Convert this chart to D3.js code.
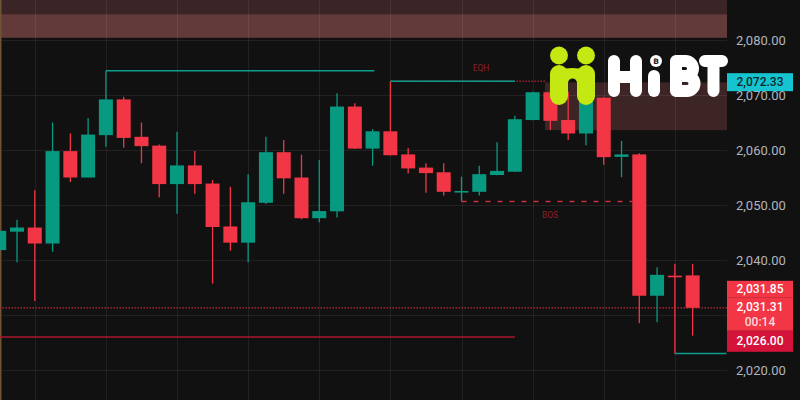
<!DOCTYPE html>
<meta charset="utf-8">
<script src="https://d3js.org/d3.v7.min.js"></script>
<body>
<style>
  html, body { margin: 0; padding: 0; background: #111111; }
  svg { display: block; }
</style>
<svg width="800" height="400"></svg>
<script>
// candles, left to right
var opens  = [2041.8, 2045.15, 2045.9, 2043.0, 2059.8, 2055.0, 2062.7, 2069.2, 2062.4, 2060.8,
              2053.8, 2057.2, 2053.9, 2046.1, 2043.15, 2050.4, 2059.6, 2055.0, 2047.6, 2048.85,
              2067.9, 2060.25, 2063.4, 2059.2, 2056.8, 2055.95, 2052.35, 2052.4, 2055.45, 2056.05,
              2065.45, 2070.5, 2065.45, 2063.0, 2069.5, 2058.75, 2059.2, 2033.5, 2037.15, 2037.2];
var highs  = [2045.5, 2047.3, 2052.7, 2065.0, 2063.0, 2065.8, 2074.4, 2069.7, 2065.0, 2061.0,
              2063.3, 2059.8, 2054.55, 2053.3, 2055.6, 2062.4, 2061.8, 2059.15, 2058.2, 2070.3,
              2068.5, 2063.8, 2072.5, 2060.35, 2057.6, 2057.6, 2055.15, 2057.15, 2061.4, 2066.25,
              2070.6, 2071.0, 2070.6, 2070.5, 2069.6, 2061.65, 2059.4, 2038.7, 2039.3, 2039.3];
var lows   = [2041.6, 2039.6, 2032.55, 2041.5, 2054.2, 2055.0, 2060.6, 2060.4, 2057.6, 2051.4,
              2048.4, 2052.05, 2035.7, 2041.7, 2039.6, 2050.2, 2052.05, 2047.4, 2046.8, 2047.75,
              2060.2, 2057.15, 2059.0, 2055.75, 2052.25, 2051.75, 2050.65, 2051.75, 2055.4, 2056.0,
              2065.4, 2063.65, 2061.8, 2060.85, 2057.3, 2055.05, 2028.5, 2028.7, 2023.0, 2026.25];
var closes = [2045.3, 2045.9, 2043.0, 2059.8, 2055.0, 2062.8, 2069.2, 2062.2, 2060.7, 2053.8,
              2057.2, 2053.8, 2046.0, 2043.15, 2050.5, 2059.6, 2054.85, 2047.6, 2048.9, 2067.9,
              2060.25, 2063.4, 2059.05, 2056.65, 2055.8, 2052.4, 2052.55, 2055.6, 2056.2, 2065.6,
              2070.5, 2065.3, 2063.0, 2069.1, 2058.7, 2059.2, 2033.5, 2037.3, 2037.0, 2031.31];

var gridTicks = [2020, 2030, 2040, 2050, 2060, 2070, 2080];
var axisTicks = [2020, 2040, 2050, 2060, 2070, 2080]; // 2,030 sits under the price tags

// zones
var zoneTopOuter = [2080.42, 2090];
var zoneTopInner = [2080.42, 2084.67];
var zoneRight = [30.7, 2072.3, 2063.6];

// drawn levels: [startIndex, endIndex, value]
var swingHigh1 = [6, 21.1, 2074.4];
var swingHigh2 = [22, 29, 2072.5];
var eqhDotted = [22, 30.7, 2072.5];
var bosLevel = [26, 35.7, 2050.65];
var oldLow = [0, 29, 2026.0];
var newLow = [38, 40.9, 2023.0];

var tagCyan = 2072.33;
var tagHigh = 2031.85;
var tagLast = 2031.31;
var tagCountdown = "00:14";
var tagLow = 2026.0;

var W = 800, H = 400, plotRight = 727;
var green = "#089981", red = "#f23645";

var svg = d3.select("svg");

var x = d3.scaleLinear().domain([0, 39]).range([-0.78, -0.78 + 39 * 17.78]);
var y = d3.scaleLinear().domain([2020, 2080]).range([370, 40]);
var bodyW = 14;
var fmt = d3.format(",.2f");

// bands behind everything
svg.append("rect").attr("x", 0).attr("width", plotRight)
  .attr("y", y(zoneTopOuter[1])).attr("height", y(zoneTopOuter[0]) - y(zoneTopOuter[1]))
  .attr("fill", "#3b2425");
svg.append("rect").attr("x", 0).attr("width", plotRight)
  .attr("y", y(zoneTopInner[1])).attr("height", y(zoneTopInner[0]) - y(zoneTopInner[1]))
  .attr("fill", "#623a3a");
svg.append("rect").attr("x", x(zoneRight[0])).attr("width", plotRight - x(zoneRight[0]))
  .attr("y", y(zoneRight[1])).attr("height", y(zoneRight[2]) - y(zoneRight[1]))
  .attr("fill", "#3d2526");

// grid
var grid = svg.append("g").attr("stroke", "rgba(255,255,255,0.07)").attr("stroke-width", 1);
grid.selectAll(".h").data(gridTicks).join("line")
  .attr("x1", 0).attr("x2", plotRight)
  .attr("y1", function (d) { return Math.round(y(d)) + 0.5; })
  .attr("y2", function (d) { return Math.round(y(d)) + 0.5; });
grid.selectAll(".v").data(d3.range(2, 40, 4)).join("line")
  .attr("y1", 0).attr("y2", H)
  .attr("x1", function (d) { return Math.round(x(d)) + 0.5; })
  .attr("x2", function (d) { return Math.round(x(d)) + 0.5; });

// left edge line
svg.append("line").attr("x1", 0.75).attr("x2", 0.75).attr("y1", 0).attr("y2", H)
  .attr("stroke", "#6e5334").attr("stroke-width", 1.5);

function level(l, color, width, dash) {
  svg.append("line")
    .attr("x1", x(l[0])).attr("x2", Math.min(x(l[1]), plotRight))
    .attr("y1", y(l[2])).attr("y2", y(l[2]))
    .attr("stroke", color).attr("stroke-width", width)
    .attr("stroke-dasharray", dash || null);
}

// current price line and old low
level([-1, 40.95, tagLast], "#c42a38", 1.3, "1.5,1.5");
level(oldLow, "#a8172e", 1.5);

// candles
var candles = d3.range(opens.length).map(function (i) {
  return { i: i, o: opens[i], h: highs[i], l: lows[i], c: closes[i] };
});
var cg = svg.append("g");
cg.selectAll("line").data(candles).join("line")
  .attr("x1", function (d) { return x(d.i); })
  .attr("x2", function (d) { return x(d.i); })
  .attr("y1", function (d) { return y(d.h); })
  .attr("y2", function (d) { return y(d.l); })
  .attr("stroke", function (d) { return d.c >= d.o ? green : red; })
  .attr("stroke-width", 1.3);
cg.selectAll("rect").data(candles).join("rect")
  .attr("x", function (d) { return x(d.i) - bodyW / 2; })
  .attr("width", bodyW)
  .attr("y", function (d) { return y(Math.max(d.o, d.c)); })
  .attr("height", function (d) { return Math.max(1.6, Math.abs(y(d.o) - y(d.c))); })
  .attr("fill", function (d) { return d.c >= d.o ? green : red; });

// structure lines
function bracket(l, color) {
  svg.append("line").attr("x1", x(l[0])).attr("x2", x(l[1]))
    .attr("y1", y(l[2])).attr("y2", y(l[2]))
    .attr("stroke", color).attr("stroke-width", 1.5);
}
level(eqhDotted, "#a3202f", 1.3, "1.5,1.5");
bracket(swingHigh1, "#0b9d8e");
bracket(swingHigh2, "#0b9d8e");
level(bosLevel, "#d0303f", 1.5, "5,7");
bracket(newLow, "#0b9d8e");

svg.append("text").attr("x", 481).attr("y", 71).attr("text-anchor", "middle")
  .attr("font-family", "Roboto, sans-serif").attr("font-size", 8.5)
  .attr("fill", "#8e1f2c").text("EQH");
svg.append("text").attr("x", 550).attr("y", 218).attr("text-anchor", "middle")
  .attr("font-family", "Roboto, sans-serif").attr("font-size", 8.5)
  .attr("fill", "#8e1f2c").text("BOS");

// right price axis
var axis = svg.append("g").attr("transform", "translate(" + plotRight + ",0)")
  .call(d3.axisRight(y).tickValues(axisTicks).tickFormat(fmt).tickSize(0).tickPadding(9));
axis.select(".domain").remove();
axis.selectAll("text").attr("font-family", "Roboto, sans-serif").attr("font-size", 13)
  .attr("fill", "#b2b5be");

// tags
function tag(top, h, fill, lines, textFill, base) {
  var g = svg.append("g");
  g.append("rect").attr("x", plotRight).attr("y", top).attr("width", 66).attr("height", h)
    .attr("fill", fill);
  lines.forEach(function (t, k) {
    g.append("text").attr("x", plotRight + 33).attr("y", top + base + k * 15)
      .attr("text-anchor", "middle")
      .attr("font-family", "Roboto, sans-serif").attr("font-size", 12).attr("font-weight", 500)
      .attr("fill", k === 0 ? textFill : "#ffd9dc").text(t);
  });
}
var lastTop = y(tagLast) - 10;
tag(y(tagCyan) - 9, 18, "#16c4d0", [fmt(tagCyan)], "#10262a", 13);
tag(lastTop - 17, 17, red, [fmt(tagHigh)], "#ffffff", 12.5);
tag(lastTop, 33, red, [fmt(tagLast), tagCountdown], "#ffffff", 13);
tag(lastTop + 33, 21, "#d3133a", [fmt(tagLow)], "#ffffff", 14.5);

// watermark logo
var logo = svg.append("g");
var lime = "#c4e812";
logo.append("circle").attr("cx", 559).attr("cy", 55.5).attr("r", 9).attr("fill", lime);
logo.append("circle").attr("cx", 586).attr("cy", 55.5).attr("r", 9).attr("fill", lime);
logo.append("rect").attr("x", 550).attr("y", 65).attr("width", 18).attr("height", 40).attr("rx", 9).attr("fill", lime);
logo.append("rect").attr("x", 577).attr("y", 65).attr("width", 18).attr("height", 40).attr("rx", 9).attr("fill", lime);
logo.append("path").attr("fill", lime)
  .attr("d", "M559,70 Q572.5,66 586,70 L586,92 L577,92 L577,83 A4.5,4.5 0 0 0 568,83 L568,92 L559,92 Z");

var letters = logo.append("g").attr("fill", "none").attr("stroke", "#ffffff")
  .attr("stroke-width", 12).attr("stroke-linecap", "round").attr("stroke-linejoin", "round");
letters.append("path").attr("d", "M614,61 V91 M636,61 V91 M614,77 H636");
letters.append("path").attr("d", "M654,76 V91");
letters.append("path").attr("d", "M676,61 V91 M676,61 H685.5 A7.5,7.5 0 0 1 685.5,76 H676 M676,76 H687 A7.5,7.5 0 0 1 687,91 H676");
letters.append("path").attr("d", "M705,61 H722 M713.5,61 V91");
logo.append("circle").attr("cx", 656).attr("cy", 61).attr("r", 6).attr("fill", "#ffffff");
logo.append("text").attr("x", 656).attr("y", 64).attr("text-anchor", "middle")
  .attr("font-family", "DejaVu Sans, sans-serif").attr("font-size", 7.5).attr("font-weight", 700)
  .attr("fill", "#222").text("B");
</script>
</body>
